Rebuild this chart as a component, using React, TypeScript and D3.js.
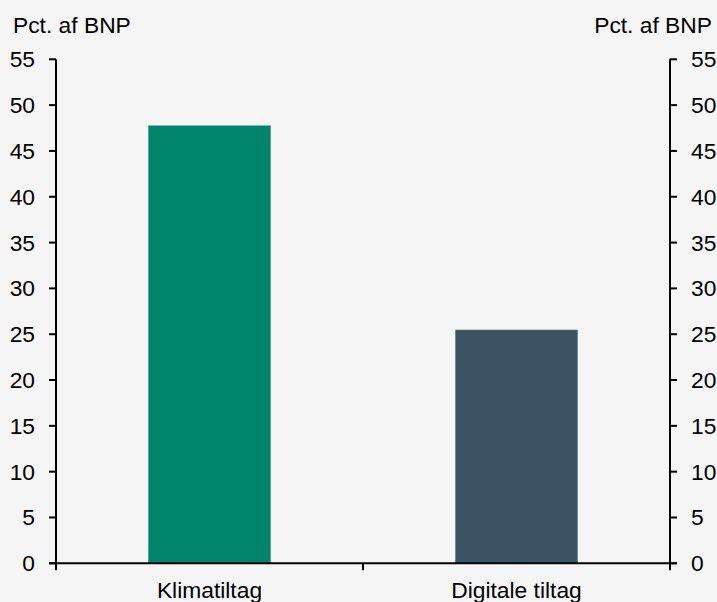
import React from "react";
import * as d3 from "d3";

const categories = ["Klimatiltag", "Digitale tiltag"];
const values = [47.8, 25.5];
const colors = ["#00856A", "#3B5463"];
const yTicks = [0, 5, 10, 15, 20, 25, 30, 35, 40, 45, 50, 55];
const unitLabel = "Pct. af BNP";

export default function App() {
  const W = 717, H = 602;
  const left = 56, right = 670, top = 59.3, bottom = 563.3;
  const x = d3.scaleBand<string>().domain(categories).range([left, right]).paddingInner(0.6).paddingOuter(0.3);
  const xOuter = d3.scaleBand<string>().domain(categories).range([left, right]);
  const y = d3.scaleLinear().domain([0, 55]).range([bottom, top]);
  const font = "'Liberation Sans', Arial, sans-serif";
  const fs = 22.8;
  return (
    <svg width={W} height={H} style={{ position: "absolute", left: 0, top: 0, background: "#F5F5F5" }} fontFamily={font}>
      <rect x={0} y={0} width={W} height={H} fill="#F5F5F5" />
      {categories.map((c, i) => (
        <rect key={c} x={x(c)} y={y(values[i])} width={x.bandwidth()} height={y(0) - y(values[i])}
          fill={colors[i]} stroke="#ffffff" strokeOpacity={0.4} strokeWidth={1} />
      ))}
      {/* left axis */}
      <line x1={left} x2={left} y1={top} y2={bottom} stroke="#000" strokeWidth={2} />
      {yTicks.map(t => (
        <g key={"l" + t}>
          <line x1={left - 7} x2={left} y1={y(t)} y2={y(t)} stroke="#000" strokeWidth={2} />
          <text x={35} y={y(t)} dy="0.35em" textAnchor="end" fontSize={fs} fill="#000">{t}</text>
        </g>
      ))}
      {/* right axis */}
      <line x1={right} x2={right} y1={top} y2={bottom} stroke="#000" strokeWidth={2} />
      {yTicks.map(t => (
        <g key={"r" + t}>
          <line x1={right} x2={right + 7} y1={y(t)} y2={y(t)} stroke="#000" strokeWidth={2} />
          <text x={691} y={y(t)} dy="0.35em" textAnchor="start" fontSize={fs} fill="#000">{t}</text>
        </g>
      ))}
      {/* bottom axis */}
      <line x1={left - 7} x2={right + 7} y1={bottom} y2={bottom} stroke="#000" strokeWidth={2} />
      {[left, ...categories.map(c => (xOuter(c) as number) + xOuter.bandwidth())].map((px, i) => (
        <line key={"b" + i} x1={px} x2={px} y1={bottom} y2={bottom + 7} stroke="#000" strokeWidth={2} />
      ))}
      {categories.map(c => (
        <text key={"c" + c} x={(xOuter(c) as number) + xOuter.bandwidth() / 2} y={598} textAnchor="middle" fontSize={fs} fill="#000">{c}</text>
      ))}
      <text x={13} y={33} fontSize={fs} fill="#000">{unitLabel}</text>
      <text x={712} y={33} fontSize={fs} textAnchor="end" fill="#000">{unitLabel}</text>
    </svg>
  );
}
